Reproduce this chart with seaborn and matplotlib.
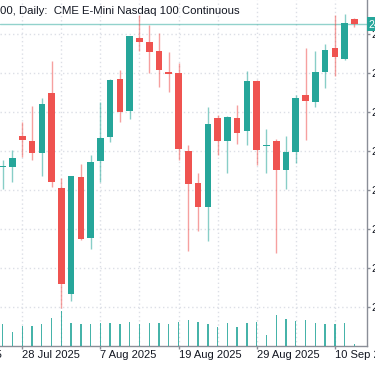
import matplotlib
matplotlib.use("Agg")
import matplotlib.pyplot as plt
import matplotlib.transforms as mtransforms
import numpy as np
import pandas as pd
import seaborn as sns

# ---------------- data ----------------
dates = ["2025-07-24", "2025-07-25", "2025-07-28", "2025-07-29", "2025-07-30", "2025-07-31",
         "2025-08-01", "2025-08-04", "2025-08-05", "2025-08-06", "2025-08-07", "2025-08-08",
         "2025-08-11", "2025-08-12", "2025-08-13", "2025-08-14", "2025-08-15", "2025-08-18",
         "2025-08-19", "2025-08-20", "2025-08-21", "2025-08-22", "2025-08-25", "2025-08-26",
         "2025-08-27", "2025-08-28", "2025-08-29", "2025-09-01", "2025-09-02", "2025-09-03",
         "2025-09-04", "2025-09-05", "2025-09-08", "2025-09-09", "2025-09-10", "2025-09-11",
         "2025-09-12"]
opens = [23714, 23714, 23873, 23849, 23786, 24094, 23610, 23063, 23665, 23350, 23747, 23868,
         24166, 24005, 24376, 24359, 24312, 24202, 24196, 23798, 23634, 23509, 23967, 23851,
         23967, 23902, 24157, 23823, 23849, 23701, 23791, 24087, 24051, 24205, 24325, 24268,
         24473]
highs = [23752, 23803, 23947, 24029, 24068, 24260, 23658, 23672, 23731, 23777, 24051, 24167,
         24213, 24390, 24495, 24444, 24402, 24307, 24251, 23829, 23687, 24025, 23983, 23977,
         24034, 24210, 24160, 23911, 23858, 23875, 24087, 24328, 24313, 24347, 24495, 24501,
         24482]
lows = [23602, 23641, 23769, 23752, 23671, 23615, 22991, 23030, 23342, 23295, 23641, 23846,
        23948, 23961, 24312, 24200, 24128, 24102, 23752, 23285, 23389, 23338, 23777, 23687,
        23832, 23829, 23726, 23687, 23276, 23603, 23735, 23854, 24025, 24120, 24183, 24265,
        24435]
closes = [23720, 23764, 23854, 23786, 24037, 23639, 23114, 23668, 23345, 23740, 23865, 24162,
          23996, 24388, 24359, 24307, 24213, 24195, 23808, 23627, 23509, 23936, 23849, 23974,
          23892, 24159, 23802, 23827, 23699, 23791, 24070, 24054, 24201, 24316, 24279, 24456,
          24449]
volumes = [535, 335, 500, 500, 543, 685, 868, 560, 535, 543, 575, 560, 543, 585, 535, 575,
           560, 535, 585, 635, 585, 535, 460, 575, 468, 560, 585, 268, 768, 668, 610, 635,
           560, 535, 535, 560, 35]  # thousands of contracts

price_ticks = [23000, 23200, 23400, 23600, 23800, 24000, 24200, 24400]
x_label_dates = ["2025-07-16", "2025-07-28", "2025-08-07", "2025-08-19", "2025-08-29", "2025-09-10"]
x_labels = ["16 Jul 2025", "28 Jul 2025", "7 Aug 2025", "19 Aug 2025", "29 Aug 2025", "10 Sep 2025"]
title = "00, Daily:  CME E-Mini Nasdaq 100 Continuous"

# ---------------- styling ----------------
UP = "#26a69a"
DOWN = "#ef5350"
AXIS = "#8a8e97"
GRID = "#dcdfe6"
TEXT = "#131722"

sns.set_theme(style="white")
plt.rcParams["font.family"] = ["Liberation Sans", "DejaVu Sans"]

df = pd.DataFrame({"date": dates, "open": opens, "high": highs, "low": lows,
                   "close": closes, "volume": volumes})
df["idx"] = [int(np.busday_count(dates[0], d)) for d in df["date"]]
df["up"] = df["close"] >= df["open"]

W, H = 375, 366
fig = plt.figure(figsize=(W / 100, H / 100), dpi=100)
ax = fig.add_axes([0, 20.3 / H, 366.5 / W, 345.7 / H])
ax.set_facecolor("white")

# volume on twin axis (seaborn)
ax2 = ax.twinx()
sns.barplot(data=df, x="idx", y="volume", native_scale=True, width=0.14,
            color=UP, saturation=1, errorbar=None, linewidth=0, alpha=0.85, ax=ax2)
ax2.set_ylim(0, 345.7 * 25)
ax2.set_yticks([])
ax2.set_xlabel("")
ax2.set_ylabel("")
for s in ax2.spines.values():
    s.set_visible(False)

# candles
body_colors = [UP if u else DOWN for u in df["up"]]
ax.vlines(df["idx"], df["low"], df["high"], colors=body_colors, alpha=0.55,
          linewidth=1, zorder=2)
bottoms = np.minimum(df["open"], df["close"])
heights = np.maximum(np.abs(df["close"] - df["open"]), 8)
ax.bar(df["idx"], heights, bottom=bottoms, width=0.67, color=body_colors,
       linewidth=0, zorder=3)

# last price line
last = closes[-1]
ax.axhline(last, color=UP, alpha=0.5, linewidth=1, zorder=1)

# axes limits
ax.set_xlim(-0.276, 37.24)
ax.set_ylim(22799.5, 24572.3)

# grid
label_pos = [int(np.busday_count(dates[0], d)) for d in x_label_dates]
ax.set_xticks(label_pos[1:])
ax.set_xticklabels(x_labels[1:], ha="left")
ax.set_xticks(list(range(2, 37, 4)), minor=True)
ax.set_yticks(price_ticks)
ax.set_yticklabels([f"{v:,.2f}" for v in price_ticks])
ax.yaxis.tick_right()
ax.grid(True, which="both", axis="x", color=GRID, linestyle=(0, (1, 2)), linewidth=1)
ax.grid(True, which="major", axis="y", color=GRID, linestyle=(0, (1, 2)), linewidth=1)
ax.set_axisbelow(True)

tick_len = 3.3 * 0.72
tick_pad = 1.0
ax.tick_params(axis="x", which="major", bottom=True, length=tick_len, width=1,
               color=AXIS, pad=tick_pad, labelsize=8, labelcolor=TEXT)
ax.tick_params(axis="x", which="minor", bottom=False, length=0)
ax.tick_params(axis="y", which="major", right=True, left=False, length=tick_len, width=1,
               color=AXIS, pad=1.0, labelsize=8, labelcolor=TEXT)

for side in ["left", "top"]:
    ax.spines[side].set_visible(False)
for side in ["right", "bottom"]:
    ax.spines[side].set_visible(True)
    ax.spines[side].set_color(AXIS)
    ax.spines[side].set_linewidth(1)

# leftmost (clipped) date label
trans = mtransforms.offset_copy(ax.get_xaxis_transform(), fig=fig, y=-(tick_len + tick_pad),
                                units="points")
ax.text(label_pos[0], 0, x_labels[0], transform=trans, ha="left", va="top",
        fontsize=8, color=TEXT, clip_on=False)

# last price label on the price scale
ax.text(1.0045, last, f"{last:,.2f}", transform=ax.get_yaxis_transform(),
        ha="left", va="center", fontsize=7.5, color="white", clip_on=False,
        bbox=dict(facecolor=UP, edgecolor="none", boxstyle="square,pad=0.15"), zorder=10)

# legend/title text
fig.text(0.0, 1 - 14 / H, title, ha="left", va="baseline", fontsize=8.2, color=TEXT)

fig.savefig("out.png", dpi=100)
